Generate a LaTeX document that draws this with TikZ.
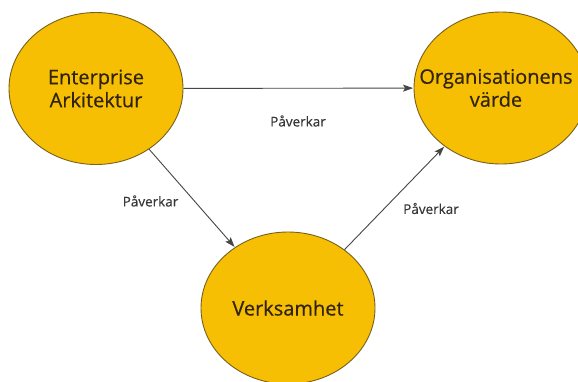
\documentclass[tikz,border=0pt]{standalone}
\usepackage{fontspec}
\setmainfont{Open Sans}
\newfontfamily\bubblefont{Open Sans}[FakeBold=0.5]
\newfontfamily\labelfont{Open Sans}[FakeBold=0.4]
\usetikzlibrary{shapes.geometric,arrows.meta}

\definecolor{bubblefill}{RGB}{246,191,4}
\definecolor{bubbleedge}{RGB}{120,96,30}
\definecolor{bubbletext}{RGB}{50,36,12}
\definecolor{linkgray}{RGB}{70,70,70}
\definecolor{labelgray}{RGB}{55,55,55}

\tikzset{
  bubble/.style={ellipse, draw=bubbleedge, line width=0.9pt, fill=bubblefill,
    minimum width=174pt, minimum height=152pt, inner sep=0pt},
  bubbletitle/.style={align=center, inner sep=0pt, text=bubbletext,
    font=\bubblefont\fontsize{20}{23}\selectfont},
  link/.style={draw=linkgray, line width=0.9pt,
    -{Stealth[length=10pt,width=7pt,inset=2pt]}, shorten >=0.5pt},
  linklabel/.style={text=labelgray, font=\labelfont\fontsize{13.5}{15}\selectfont},
}

\begin{document}
\begin{tikzpicture}[x=1pt,y=-1pt]
  \useasboundingbox (0,0) rectangle (578,381);
  \clip (0,0) rectangle (578,381);
  \fill[white] (0,0) rectangle (578,381);

  % the three circles
  \node[bubble] (ea) at (96,88.5) {};
  \node[bubble] (ov) at (501,88) {};
  \node[bubble] (vh) at (288,308) {};

  % their titles
  \node[bubbletitle] (eat) at (ea.center) {Enterprise\\Arkitektur};
  \node[bubbletitle] (ovt) at (496,88) {Organisationens\\värde};
  \node[bubbletitle] (vht) at (vh.center) {Verksamhet};

  % influence links
  \draw[link] (ea) -- (ov);
  \draw[link] (ea) -- (vh);
  \draw[link] (vh) -- (ov);

  % link labels
  \node[linklabel] (l1) at (298,121) {Påverkar};
  \node[linklabel] (l2) at (150.5,201) {Påverkar};
  \node[linklabel] (l3) at (431,208.5) {Påverkar};
\end{tikzpicture}
\end{document}
